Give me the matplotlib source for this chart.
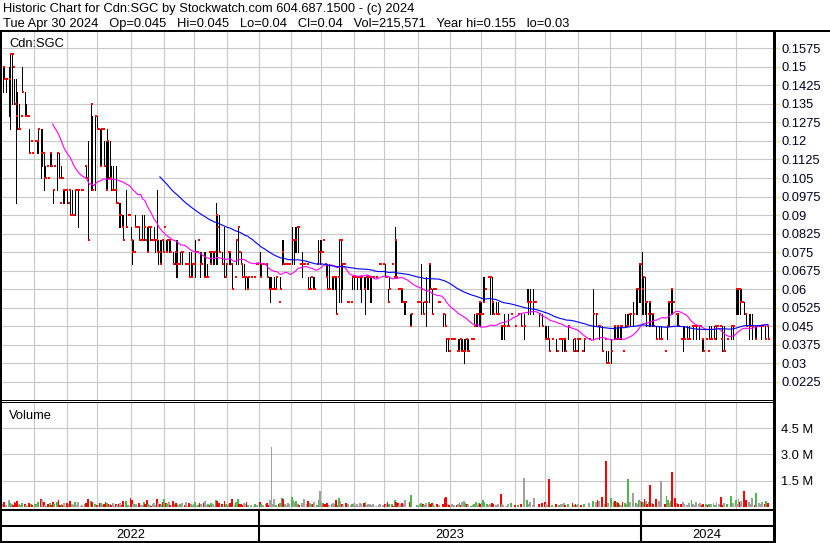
import matplotlib
matplotlib.use('Agg')

import matplotlib.pyplot as plt
from matplotlib.patches import Rectangle
import numpy as np
import pandas as pd

plt.rcParams['font.family'] = ['Liberation Sans', 'DejaVu Sans']

# prices are stored in half-cent ticks (1 tick = $0.005), 0 means no trade that day
TICK = 0.005
dates = pd.bdate_range('2022-05-02', '2024-04-30')

high_ticks = [
    30, 30, 29, 0, 30, 31, 31, 30, 29, 29,  28, 27, 26, 30, 0, 28, 27, 26, 25, 24,
    23, 0, 24, 24, 25, 0, 25, 25, 23, 22,  22, 21, 23, 23, 20, 22, 0, 23, 23, 19,
    22, 20, 20, 20, 20, 20, 20, 20, 18, 20,  20, 20, 0, 20, 20, 0, 22, 22, 24, 0,
    27, 26, 0, 26, 26, 25, 25, 25, 25, 24,  24, 25, 24, 24, 22, 22, 20, 22, 19, 19,
    19, 18, 18, 0, 20, 18, 18, 17, 16, 16,  18, 17, 17, 17, 16, 18, 18, 16, 17, 17,
    17, 16, 16, 17, 16, 20, 16, 16, 16, 16,  17, 16, 16, 16, 16, 0, 15, 15, 16, 16,
    14, 15, 15, 0, 14, 14, 14, 15, 15, 14,  14, 16, 15, 16, 15, 15, 0, 15, 15, 14,
    15, 15, 15, 15, 15, 19, 18, 18, 0, 15,  0, 17, 14, 15, 15, 15, 14, 0, 13, 16,
    17, 15, 15, 14, 14, 13, 13, 13, 0, 13,  0, 13, 14, 14, 0, 15, 14, 14, 0, 14,
    14, 13, 13, 13, 12, 13, 13, 0, 11, 13,  16, 16, 14, 14, 14, 14, 0, 17, 16, 17,
    17, 17, 14, 0, 15, 14, 0, 14, 13, 13,  13, 13, 13, 0, 14, 16, 16, 16, 16, 14,
    14, 14, 14, 0, 13, 13, 13, 13, 13, 16,  16, 14, 14, 0, 11, 11, 0, 11, 13, 13,
    13, 13, 13, 13, 13, 0, 13, 13, 13, 13,  13, 13, 13, 0, 13, 0, 14, 14, 0, 14,
    14, 13, 12, 13, 0, 14, 13, 17, 16, 12,  12, 12, 12, 11, 11, 0, 0, 10, 10, 0,
    0, 0, 11, 11, 11, 14, 11, 11, 13, 0,  14, 14, 12, 12, 12, 0, 11, 11, 0, 0,
    10, 10, 8, 8, 7, 8, 8, 8, 0, 7,  8, 8, 8, 8, 8, 8, 8, 8, 0, 8,
    8, 10, 10, 10, 11, 11, 11, 13, 13, 0,  13, 13, 13, 13, 11, 0, 11, 11, 0, 9,
    9, 10, 0, 9, 10, 0, 10, 0, 0, 9,  0, 10, 0, 10, 0, 10, 0, 12, 12, 12,
    0, 12, 11, 0, 0, 10, 0, 10, 0, 9,  9, 9, 8, 0, 8, 0, 0, 8, 0, 8,
    8, 8, 8, 8, 0, 9, 0, 0, 8, 8,  8, 8, 8, 0, 7, 0, 8, 0, 0, 8,
    0, 0, 12, 0, 10, 9, 9, 0, 9, 0,  8, 7, 7, 0, 8, 0, 9, 9, 9, 9,
    9, 9, 7, 0, 10, 10, 10, 10, 0, 11,  0, 12, 12, 14, 14, 15, 13, 13, 11, 10,
    11, 11, 10, 10, 0, 9, 0, 9, 9, 0,  0, 7, 9, 11, 11, 12, 12, 0, 10, 10,
    10, 0, 8, 9, 9, 0, 9, 9, 0, 9,  9, 9, 9, 0, 9, 9, 8, 8, 0, 8,
    7, 9, 9, 0, 9, 9, 9, 0, 9, 8,  9, 9, 0, 8, 0, 0, 9, 9, 0, 12,
    12, 12, 12, 12, 0, 11, 10, 0, 10, 10,  10, 0, 9, 9, 0, 9, 9, 9, 0, 9, 9, 9,
]

low_ticks = [
    28, 29, 28, 0, 26, 25, 27, 30, 27, 19,  25, 25, 26, 28, 0, 26, 26, 26, 23, 24,
    23, 0, 24, 23, 23, 0, 21, 22, 20, 21,  22, 21, 22, 22, 19, 22, 0, 20, 21, 19,
    21, 19, 19, 20, 19, 20, 18, 18, 18, 18,  20, 17, 0, 20, 20, 0, 22, 21, 16, 0,
    20, 20, 0, 20, 25, 25, 22, 22, 25, 22,  20, 20, 21, 21, 20, 20, 20, 19, 19, 17,
    17, 17, 16, 0, 17, 18, 18, 16, 14, 15,  17, 17, 17, 16, 16, 16, 16, 16, 15, 15,
    16, 16, 16, 16, 15, 15, 14, 14, 14, 15,  17, 15, 15, 15, 15, 0, 14, 14, 13, 13,
    14, 14, 14, 0, 14, 14, 14, 13, 13, 13,  14, 13, 15, 16, 13, 14, 0, 13, 13, 13,
    15, 14, 14, 14, 14, 14, 14, 15, 0, 14,  0, 13, 13, 15, 14, 14, 12, 0, 13, 14,
    14, 15, 14, 13, 13, 12, 12, 12, 0, 13,  0, 13, 14, 14, 0, 13, 13, 14, 0, 14,
    13, 12, 11, 12, 12, 12, 12, 0, 11, 12,  14, 14, 14, 14, 14, 14, 0, 14, 14, 15,
    15, 15, 14, 0, 13, 14, 0, 14, 12, 12,  13, 12, 12, 0, 14, 14, 14, 15, 16, 14,
    13, 12, 12, 0, 12, 12, 12, 10, 13, 11,  11, 12, 14, 0, 11, 11, 0, 11, 12, 12,
    13, 12, 13, 12, 11, 0, 12, 10, 12, 12,  11, 11, 13, 0, 13, 0, 14, 14, 0, 14,
    13, 13, 11, 12, 0, 14, 13, 13, 13, 12,  12, 11, 11, 10, 10, 0, 0, 9, 9, 0,
    0, 0, 11, 11, 11, 10, 10, 11, 9, 0,  11, 12, 10, 12, 12, 0, 11, 11, 0, 0,
    9, 9, 7, 7, 7, 8, 8, 8, 0, 7,  7, 7, 7, 7, 6, 7, 7, 7, 0, 8,
    8, 9, 9, 9, 9, 9, 10, 11, 11, 0,  13, 13, 10, 10, 10, 0, 10, 10, 0, 8,
    8, 8, 0, 9, 9, 0, 10, 0, 0, 9,  0, 10, 0, 9, 0, 8, 0, 11, 10, 10,
    0, 10, 11, 0, 0, 9, 0, 9, 0, 8,  8, 8, 7, 0, 8, 0, 0, 7, 0, 8,
    8, 7, 7, 7, 0, 8, 0, 0, 7, 8,  7, 8, 7, 0, 7, 0, 7, 0, 0, 8,
    0, 0, 8, 0, 9, 9, 8, 0, 7, 0,  8, 6, 6, 0, 6, 0, 8, 8, 8, 8,
    8, 8, 7, 0, 9, 9, 9, 9, 0, 9,  0, 10, 10, 11, 11, 10, 10, 10, 9, 10,
    9, 9, 9, 9, 0, 8, 0, 8, 8, 0,  0, 7, 8, 9, 9, 10, 10, 0, 10, 9,
    9, 0, 8, 7, 8, 0, 8, 8, 0, 9,  8, 9, 8, 0, 8, 9, 7, 7, 0, 8,
    7, 8, 8, 0, 8, 9, 8, 0, 9, 8,  7, 7, 0, 8, 0, 0, 8, 8, 0, 10,
    10, 10, 10, 11, 0, 10, 9, 0, 8, 9,  8, 0, 8, 8, 0, 9, 8, 9, 0, 8, 9, 8,
]

close_ticks = [
    30, 29, 29, 0, 29, 31, 31, 30, 27, 26,  25, 25, 26, 28, 0, 26, 26, 26, 23, 24,
    23, 0, 24, 24, 25, 0, 23, 23, 21, 21,  22, 21, 23, 22, 20, 22, 0, 23, 21, 19,
    21, 20, 20, 20, 19, 20, 18, 18, 18, 20,  20, 20, 0, 20, 20, 0, 22, 21, 16, 0,
    27, 20, 0, 26, 25, 25, 22, 25, 25, 22,  20, 24, 21, 21, 20, 20, 20, 19, 19, 18,
    18, 17, 16, 0, 17, 18, 18, 16, 15, 15,  17, 17, 17, 16, 16, 16, 17, 16, 15, 17,
    17, 16, 16, 16, 16, 15, 15, 14, 16, 15,  17, 15, 16, 16, 15, 0, 14, 15, 14, 14,
    14, 15, 15, 0, 14, 14, 14, 13, 13, 14,  14, 15, 15, 16, 14, 14, 0, 13, 13, 13,
    15, 14, 15, 15, 15, 18, 17, 15, 0, 14,  0, 13, 14, 15, 15, 14, 12, 0, 13, 16,
    17, 15, 14, 13, 13, 13, 12, 13, 0, 13,  0, 13, 14, 14, 0, 13, 14, 14, 0, 14,
    13, 12, 12, 12, 12, 12, 13, 0, 11, 12,  15, 14, 14, 14, 14, 14, 0, 16, 16, 16,
    17, 17, 14, 0, 14, 14, 0, 14, 12, 12,  13, 12, 12, 0, 14, 15, 15, 15, 16, 14,
    13, 12, 12, 0, 13, 13, 13, 10, 13, 16,  16, 14, 14, 0, 11, 11, 0, 11, 13, 13,
    13, 13, 13, 13, 13, 0, 12, 13, 13, 13,  13, 13, 13, 0, 13, 0, 14, 14, 0, 14,
    13, 13, 11, 12, 0, 14, 13, 16, 13, 12,  12, 12, 11, 11, 11, 0, 0, 9, 10, 0,
    0, 0, 11, 11, 11, 12, 10, 11, 11, 0,  14, 12, 10, 12, 12, 0, 11, 11, 0, 0,
    10, 9, 8, 8, 7, 8, 8, 8, 0, 7,  7, 8, 7, 7, 7, 8, 7, 7, 0, 8,
    8, 9, 10, 10, 11, 10, 10, 11, 12, 0,  13, 13, 13, 11, 10, 0, 10, 10, 0, 9,
    9, 9, 0, 9, 9, 0, 10, 0, 0, 9,  0, 10, 0, 9, 0, 9, 0, 11, 11, 11,
    0, 11, 11, 0, 0, 10, 0, 9, 0, 8,  8, 8, 7, 0, 8, 0, 0, 7, 0, 8,
    8, 8, 8, 7, 0, 9, 0, 0, 7, 8,  7, 8, 8, 0, 7, 0, 8, 0, 0, 8,
    0, 0, 10, 0, 10, 9, 9, 0, 7, 0,  8, 6, 6, 0, 7, 0, 9, 8, 9, 8,
    9, 9, 7, 0, 9, 9, 10, 10, 0, 10,  0, 12, 12, 14, 14, 12, 13, 11, 11, 10,
    11, 10, 10, 9, 0, 8, 0, 8, 8, 0,  0, 7, 9, 11, 11, 12, 11, 0, 10, 10,
    9, 0, 8, 8, 8, 0, 8, 8, 0, 9,  9, 9, 9, 0, 9, 9, 8, 7, 0, 8,
    7, 8, 8, 0, 8, 9, 9, 0, 9, 8,  7, 7, 0, 8, 0, 0, 9, 9, 0, 12,
    12, 12, 11, 11, 0, 10, 9, 0, 9, 9,  9, 0, 8, 9, 0, 9, 9, 9, 0, 8, 9, 8,
]

# daily volume in thousands of shares
volume_k = [
    160, 300, 120, 0, 400, 240, 180, 120, 280, 200,  360, 140, 100, 240, 0, 180, 120, 80, 220, 140,
    120, 0, 180, 160, 260, 0, 440, 400, 300, 120,  80, 140, 220, 120, 300, 180, 0, 260, 400, 100,
    160, 120, 200, 80, 240, 140, 320, 180, 120, 280,  100, 260, 0, 80, 120, 0, 180, 220, 440, 0,
    360, 280, 0, 180, 120, 80, 200, 240, 100, 160,  300, 220, 140, 180, 120, 200, 80, 160, 120, 180,
    240, 120, 360, 0, 350, 100, 80, 500, 420, 160,  140, 180, 80, 220, 100, 120, 260, 160, 400, 180,
    120, 80, 160, 220, 100, 480, 240, 180, 120, 260,  450, 200, 140, 280, 120, 0, 360, 180, 240, 160,
    120, 180, 220, 0, 100, 300, 80, 240, 160, 120,  180, 300, 80, 120, 220, 140, 0, 240, 360, 100,
    160, 120, 220, 180, 80, 400, 320, 200, 0, 140,  0, 320, 160, 120, 180, 240, 450, 0, 100, 260,
    440, 140, 180, 120, 220, 160, 280, 100, 0, 120,  0, 80, 160, 120, 0, 260, 180, 100, 0, 140,
    200, 120, 420, 3400, 160, 450, 120, 0, 180, 240,  500, 450, 160, 120, 200, 140, 0, 550, 400, 260,
    360, 180, 120, 0, 240, 450, 0, 160, 320, 220,  140, 180, 260, 0, 120, 400, 900, 300, 220, 160,
    180, 240, 120, 0, 160, 220, 140, 400, 100, 500,  360, 180, 120, 0, 220, 140, 0, 100, 160, 240,
    120, 180, 80, 220, 140, 0, 200, 260, 120, 160,  180, 100, 140, 0, 80, 0, 120, 180, 0, 100,
    160, 120, 300, 180, 0, 140, 80, 400, 260, 220,  120, 180, 240, 160, 400, 0, 0, 300, 700, 0,
    0, 0, 120, 80, 160, 240, 180, 100, 220, 0,  280, 180, 240, 120, 80, 0, 160, 100, 0, 0,
    140, 500, 560, 180, 120, 80, 160, 100, 0, 120,  180, 240, 120, 300, 350, 220, 160, 120, 0, 80,
    100, 180, 260, 120, 220, 160, 240, 400, 280, 0,  180, 120, 160, 220, 140, 0, 120, 180, 0, 750,
    160, 120, 0, 80, 180, 0, 240, 0, 0, 120,  0, 100, 0, 160, 0, 1670, 0, 400, 180, 260,
    0, 120, 500, 0, 0, 160, 0, 220, 0, 260,  180, 120, 1600, 0, 100, 0, 0, 160, 0, 120,
    140, 180, 220, 120, 0, 160, 0, 0, 240, 120,  180, 100, 140, 0, 120, 0, 160, 0, 0, 200,
    0, 0, 330, 0, 300, 400, 360, 0, 550, 0,  180, 2600, 240, 0, 500, 0, 300, 350, 280, 240,
    180, 120, 260, 0, 220, 160, 1600, 300, 0, 800,  0, 240, 180, 400, 350, 260, 220, 480, 320, 180,
    300, 1270, 220, 180, 0, 450, 0, 320, 1500, 0,  0, 180, 650, 400, 240, 360, 2000, 0, 500, 220,
    180, 0, 140, 260, 180, 0, 120, 220, 0, 400,  180, 120, 260, 0, 160, 220, 120, 180, 0, 140,
    100, 160, 180, 0, 200, 120, 260, 0, 160, 550,  120, 240, 0, 180, 0, 0, 650, 220, 0, 400,
    180, 450, 260, 320, 0, 900, 400, 0, 260, 180,  500, 0, 120, 800, 0, 220, 180, 260, 0, 160, 320, 216,
]

SHORT_MA = 35
LONG_MA = 108

price_levels = [0.0225, 0.03, 0.0375, 0.045, 0.0525, 0.06, 0.0675, 0.075, 0.0825, 0.09,
                0.0975, 0.105, 0.1125, 0.12, 0.1275, 0.135, 0.1425, 0.15, 0.1575]
price_labels = ['0.0225', '0.03', '0.0375', '0.045', '0.0525', '0.06', '0.0675', '0.075',
                '0.0825', '0.09', '0.0975', '0.105', '0.1125', '0.12', '0.1275', '0.135',
                '0.1425', '0.15', '0.1575']
volume_levels = [1.5e6, 3.0e6, 4.5e6]
volume_labels = ['1.5 M', '3.0 M', '4.5 M']

header1 = 'Historic Chart for Cdn:SGC by Stockwatch.com 604.687.1500 - (c) 2024'
header2 = ('Tue Apr 30 2024   Op=0.045   Hi=0.045   Lo=0.04   Cl=0.04   '
           'Vol=215,571   Year hi=0.155   lo=0.03')

# ---- prepare series
hi = np.array(high_ticks, float) * TICK
lo = np.array(low_ticks, float) * TICK
cl = np.array(close_ticks, float) * TICK
vol = np.array(volume_k, float) * 1000
traded = cl > 0
cl[~traded] = np.nan
idx = np.arange(len(dates))

close_ff = pd.Series(cl).ffill()
ma_short = close_ff.rolling(SHORT_MA).mean()
ma_long = close_ff.rolling(LONG_MA).mean()

prev_close = close_ff.shift(1).values
vol_colors = []
for c, p in zip(cl, prev_close):
    if np.isnan(c) or np.isnan(p) or c == p:
        vol_colors.append('#a0a0a0')
    elif c > p:
        vol_colors.append('#4cb84c')
    else:
        vol_colors.append('#ff0000')

years = dates.year.values
year_starts = [i for i in range(1, len(dates)) if years[i] != years[i - 1]]
month_starts = [i for i in range(1, len(dates)) if dates[i].month != dates[i - 1].month]

# ---- layout in pixels
W, H = 830, 543
FS = 9.3
GRID = '#c8c8c8'
XLIM = (-0.5, len(dates) + 2.5)


def px_rect(x0, y0, x1, y1):
    return [x0 / W, 1 - y1 / H, (x1 - x0) / W, (y1 - y0) / H]


fig = plt.figure(figsize=(W / 100, H / 100), dpi=100)

# price panel
ax = fig.add_axes(px_rect(2, 32, 773, 400))
ax.set_xlim(*XLIM)
ax.set_ylim(0.01514, 0.1641)
for m in month_starts:
    ax.axvline(m - 0.5, color=GRID, lw=0.8, zorder=0)
for p in price_levels:
    ax.axhline(p, color=GRID, lw=0.8, zorder=0)
ax.vlines(idx[traded], lo[traded], hi[traded], color='black', lw=0.7, antialiased=False, zorder=2)
ax.plot(idx[traded] + 0.8, cl[traded], 's', color='#ff0000', ms=2.1, mew=0, zorder=3)
ax.plot(idx, ma_short, color='#ff00ff', lw=0.8, zorder=4)
ax.plot(idx, ma_long, color='#0000ff', lw=0.8, zorder=4)
ax.yaxis.tick_right()
ax.set_yticks(price_levels)
ax.set_yticklabels(price_labels, fontsize=FS, color='#000020')
ax.tick_params(axis='y', length=5, width=1, color='#f0e0a0', pad=1)
ax.set_xticks([])
for s in ax.spines.values():
    s.set_visible(False)
ax.text(0.009, 0.985, 'Cdn:SGC', transform=ax.transAxes, fontsize=FS, va='top', ha='left')

# volume panel
axv = fig.add_axes(px_rect(2, 403, 773, 509))
axv.set_xlim(*XLIM)
axv.set_ylim(-0.12e6, 5.94e6)
for m in month_starts:
    axv.axvline(m - 0.5, color=GRID, lw=0.8, zorder=0)
for v in volume_levels:
    axv.axhline(v, color=GRID, lw=0.8, zorder=0)
axv.bar(idx, vol, width=1.3, color=vol_colors, linewidth=0, zorder=2)
axv.yaxis.tick_right()
axv.set_yticks(volume_levels)
axv.set_yticklabels(volume_labels, fontsize=FS)
axv.tick_params(axis='y', length=0, pad=6)
axv.set_xticks([])
for s in axv.spines.values():
    s.set_visible(False)
axv.text(0.009, 0.93, 'Volume', transform=axv.transAxes, fontsize=FS, va='top', ha='left')

# date strip (y measured in pixels from its top)
axd = fig.add_axes(px_rect(2, 509, 773, 543))
axd.set_xlim(*XLIM)
axd.set_ylim(34, 0)
axd.axis('off')
edges = [XLIM[0]] + [s - 0.5 for s in year_starts] + [XLIM[1]]
for s in year_starts:
    axd.vlines(s - 0.5, 2, 32, color='black', lw=1.5)
for k, yr in enumerate(sorted(set(years))):
    axd.text((edges[k] + edges[k + 1]) / 2, 26, str(yr), ha='center', va='center', fontsize=FS)

# frame lines, drawn in pixel units over everything
axo = fig.add_axes([0, 0, 1, 1], zorder=10)
axo.set_xlim(0, W)
axo.set_ylim(H, 0)
axo.axis('off')
axo.patch.set_alpha(0)
frame = [
    (0, 30, W, 2),      # under header
    (0, 30, 2, H - 30),  # left edge
    (773, 30, 3, H - 30),  # right edge of plot
    (0, 399.5, 773, 1.2),  # price / volume double line
    (0, 402, 773, 1.2),
    (0, 509, 773, 2),
    (0, 525, 773, 2),
    (0, 541, 773, 2),
]
for x0, y0, w, h in frame:
    axo.add_patch(Rectangle((x0, y0), w, h, color='black', lw=0, antialiased=False))

fig.text(3 / W, 1 - 9 / H, header1, fontsize=FS, va='center', ha='left')
fig.text(3 / W, 1 - 24 / H, header2, fontsize=FS, va='center', ha='left')

fig.savefig('out.png', dpi=100)
